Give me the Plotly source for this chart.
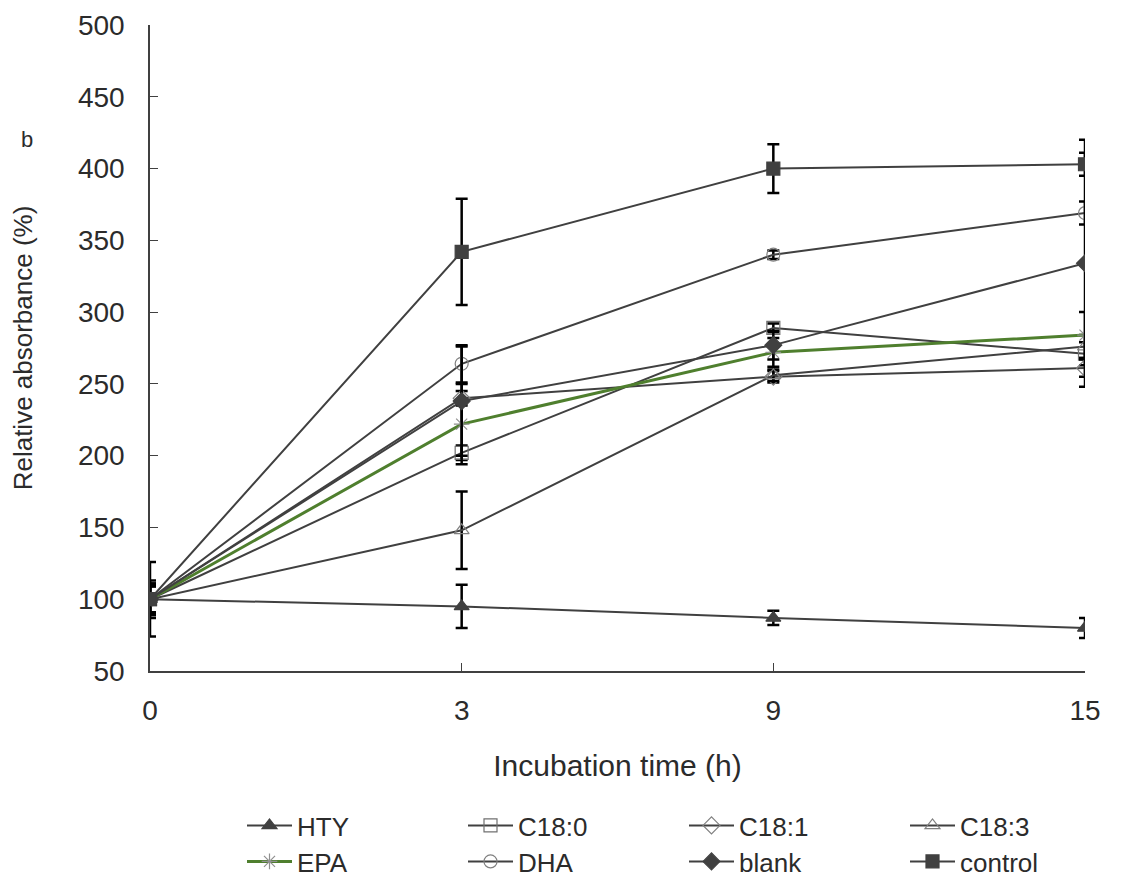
import plotly.graph_objects as go

times = ["0", "3", "9", "15"]

hty = [100, 95, 87, 80]
hty_err = [26, 15, 5, 7]
c180 = [100, 202, 289, 271]
c180_err = [10, 5, 3, 8]
c181 = [100, 240, 255, 261]
c181_err = [9, 5, 4, 6]
c183 = [100, 148, 256, 276]
c183_err = [11, 27, 4, 8]
epa = [100, 222, 272, 284]
epa_err = [9, 28, 10, 16]
dha = [100, 264, 340, 369]
dha_err = [9, 13, 3, 8]
blank = [100, 238, 277, 334]
blank_err = [13, 38, 10, 86]
control = [100, 342, 400, 403]
control_err = [11, 37, 17, 8]

GREY = "#404040"
GREEN = "#4f7f2e"
TXT = "#2b2b2b"

# name, values, errors, symbol, line colour, marker colour, line width, legend
series = [
    ("HTY", hty, hty_err, "triangle-up", GREY, GREY, 2, "legend"),
    ("C18:0", c180, c180_err, "square-open", GREY, "#707070", 2, "legend"),
    ("C18:1", c181, c181_err, "diamond-open", GREY, "#808080", 2, "legend"),
    ("C18:3", c183, c183_err, "triangle-up-open", GREY, "#808080", 2, "legend"),
    ("EPA", epa, epa_err, "asterisk-open", GREEN, "#909090", 3, "legend2"),
    ("DHA", dha, dha_err, "circle-open", GREY, "#808080", 2, "legend2"),
    ("blank", blank, blank_err, "diamond", GREY, GREY, 2, "legend2"),
    ("control", control, control_err, "square", GREY, GREY, 2, "legend2"),
]

xpos = list(range(len(times)))

fig = go.Figure()
for name, vals, err, sym, lcol, mcol, lw, leg in series:
    fig.add_trace(go.Scatter(
        x=xpos, y=vals, name=name, mode="lines+markers", legend=leg,
        line=dict(color=lcol, width=lw),
        marker=dict(symbol=sym, size=13, color=mcol,
                    line=dict(color=mcol, width=1.2)),
        error_y=dict(type="data", array=err, visible=True,
                     color="black", thickness=2.5, width=6),
    ))

# plot area in figure pixels: x 142..1077, y 17..663
PL, PT, PW, PH = 142, 17, 935, 646
BOTTOM = PT + PH

fig.add_annotation(x=(19 - PL) / PW, y=(BOTTOM - 132) / PH,
                   xref="paper", yref="paper", text="b", showarrow=False,
                   xanchor="center", yanchor="middle",
                   font=dict(size=22, color=TXT))

leg_common = dict(
    orientation="h", xanchor="left", yanchor="top",
    x=(234 - PL) / PW, entrywidth=161, entrywidthmode="pixels",
    itemwidth=45, font=dict(size=26, color=TXT), bgcolor="rgba(0,0,0,0)",
)

fig.update_layout(
    width=1132, height=900,
    margin=dict(l=PL, r=55, t=PT, b=900 - BOTTOM),
    plot_bgcolor="white", paper_bgcolor="white",
    font=dict(family="Liberation Sans, Arial, sans-serif", size=22, color=TXT),
    xaxis=dict(
        tickmode="array", tickvals=xpos, ticktext=times,
        range=[0, 3], showgrid=False, zeroline=False, automargin=False,
        showline=True, linecolor=GREY, linewidth=1.5,
        ticks="inside", ticklen=8, tickcolor=GREY,
        tickfont=dict(size=28), ticklabelstandoff=14,
        title=dict(text="Incubation time (h)", font=dict(size=30), standoff=30),
    ),
    yaxis=dict(
        range=[50, 500], dtick=50, showgrid=False, zeroline=False, automargin=False,
        showline=True, linecolor=GREY, linewidth=1.5,
        ticks="inside", ticklen=8, tickcolor=GREY,
        tickfont=dict(size=28), ticklabelstandoff=18,
        title=dict(text="Relative absorbance (%)", font=dict(size=26), standoff=38),
    ),
    legend=dict(y=(BOTTOM - 794) / PH, **leg_common),
    legend2=dict(y=(BOTTOM - 830) / PH, **leg_common),
)

fig.write_html("out.html")
